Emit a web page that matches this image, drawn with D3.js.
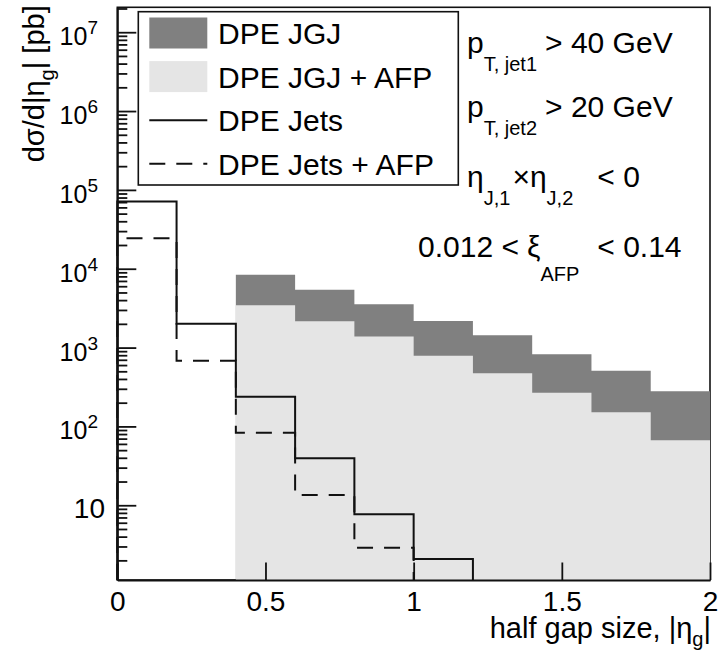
<!DOCTYPE html>
<html>
<head>
<meta charset="utf-8">
<script src="https://cdnjs.cloudflare.com/ajax/libs/d3/7.8.5/d3.min.js"></script>
<style>
  body { margin: 0; background: #fff; }
  svg { display: block; font-family: "Liberation Sans", Arial, Helvetica, sans-serif; }
</style>
</head>
<body>
<svg width="724" height="659"></svg>
<script>
// bin edges of |eta_g|
let edges = [0, 0.2, 0.4, 0.6, 0.8, 1.0, 1.2, 1.4, 1.6, 1.8, 2.0];

// d sigma / d|eta_g| [pb], one value per bin (0 = empty)
let jgj = [0, 0, 8400, 5400, 3550, 2180, 1430, 820, 510, 280];
let jgjAfp = [0, 0, 3450, 2160, 1380, 785, 472, 268, 151, 67];
let jets = [71000, 2000, 238, 39.4, 7.7, 2.08, 0, 0, 0, 0];
let jetsAfp = [24400, 682, 83, 13.5, 2.9, 0, 0, 0, 0, 0];

let xTicks = [0, 0.5, 1, 1.5, 2];
let yMajor = [10, 1e2, 1e3, 1e4, 1e5, 1e6, 1e7];
let legendLabels = ["DPE JGJ", "DPE JGJ + AFP", "DPE Jets", "DPE Jets + AFP"];

let yMin = 1.127;
let yMax = 2.07e7;

let svg = d3.select("svg");

let pL = 117.3, pR = 710, pT = 7.3, pB = 580;

let x = d3.scaleLinear().domain([0, 2]).range([pL, pR]);
let y = d3.scaleLog().domain([yMin, yMax]).range([pB, pT]);

// frame
svg
  .append("rect")
  .attr("x", pL)
  .attr("y", pT)
  .attr("width", pR - pL)
  .attr("height", pB - pT)
  .attr("fill", "none")
  .attr("stroke", "#111")
  .attr("stroke-width", 1.6);

// points for step shapes, bins first..last-1
function steps(vals, first, last) {
  let pts = [];
  for (let i = first; i < last; i++) {
    pts.push({ x: edges[i], v: Math.max(vals[i], yMin) });
  }
  pts.push({ x: edges[last], v: Math.max(vals[last - 1], yMin) });
  return pts;
}

let area = d3
  .area()
  .x((d) => x(d.x))
  .y0(pB)
  .y1((d) => y(d.v))
  .curve(d3.curveStepAfter);

svg
  .append("path")
  .attr("d", area(steps(jgj, 2, jgj.length)))
  .attr("fill", "#808080");

svg
  .append("path")
  .attr("d", area(steps(jgjAfp, 2, jgjAfp.length)))
  .attr("fill", "#e5e5e5");

let line = d3
  .line()
  .x((d) => x(d.x))
  .y((d) => y(d.v))
  .curve(d3.curveStepAfter);

// outline up to the last non-empty bin
function outline(vals) {
  let last = vals.length;
  while (last > 1 && vals[last - 1] <= 0) last--;
  let pts = steps(vals, 0, last);
  pts.unshift({ x: edges[0], v: yMin });
  pts.push({ x: edges[last], v: yMin });
  return pts;
}

svg
  .append("path")
  .attr("d", line(outline(jets)))
  .attr("fill", "none")
  .attr("stroke", "#111")
  .attr("stroke-width", 2);

svg
  .append("path")
  .attr("d", line(outline(jetsAfp)))
  .attr("fill", "none")
  .attr("stroke", "#111")
  .attr("stroke-width", 2)
  .attr("stroke-dasharray", "16,11");

// x axis
let xAxis = svg
  .append("g")
  .attr("transform", "translate(0," + pB + ")")
  .call(
    d3
      .axisBottom(x)
      .tickValues(xTicks)
      .tickSizeInner(-17.5)
      .tickSizeOuter(0)
      .tickPadding(11)
      .tickFormat((d) => d3.format("")(d))
  );
xAxis.select(".domain").attr("stroke", "#111").attr("stroke-width", 2);
xAxis.selectAll(".tick line").attr("stroke", "#111").attr("stroke-width", 1.8);
xAxis
  .selectAll(".tick text")
  .attr("font-size", 28)
  .attr("font-family", "Liberation Sans, Arial, sans-serif")
  .attr("fill", "#000");

// y axis: major and minor ticks pointing inward
let yMinor = y.ticks().filter((d) => yMajor.indexOf(d) < 0);

let yAxisMinor = svg
  .append("g")
  .attr("transform", "translate(" + pL + ",0)")
  .call(d3.axisLeft(y).tickValues(yMinor).tickSizeInner(-10).tickSizeOuter(0).tickFormat(""));
let yAxis = svg
  .append("g")
  .attr("transform", "translate(" + pL + ",0)")
  .call(d3.axisLeft(y).tickValues(yMajor).tickSizeInner(-19).tickSizeOuter(0).tickFormat(""));
yAxisMinor.select(".domain").remove();
yAxis.select(".domain").attr("stroke", "#111").attr("stroke-width", 2);
svg.selectAll(".tick line").attr("stroke", "#111").attr("stroke-width", 1.8);

// y tick labels 10^n
let yLab = svg
  .selectAll("text.ylab")
  .data(yMajor)
  .enter()
  .append("text")
  .attr("class", "ylab")
  .attr("text-anchor", "end")
  .attr("x", (d) => (d === 10 ? 105 : 98))
  .attr("y", (d) => y(d) + 13)
  .attr("font-size", (d) => (d === 10 ? 28 : 25));
yLab.append("tspan").text("10");
yLab
  .filter((d) => d !== 10)
  .append("tspan")
  .attr("dy", -11)
  .attr("font-size", 19)
  .text((d) => Math.round(Math.log10(d)));

// axis titles
let yTitle = svg
  .append("text")
  .attr("transform", "translate(44," + (pT - 2) + ") rotate(-90)")
  .attr("text-anchor", "end")
  .attr("font-size", 29);
yTitle.append("tspan").text("d\u03c3/d|\u03b7");
yTitle.append("tspan").attr("dy", 10).attr("font-size", 20).text("g");
yTitle.append("tspan").attr("dy", -10).text("| [pb]");

let xTitle = svg
  .append("text")
  .attr("x", pR + 1)
  .attr("y", 638)
  .attr("text-anchor", "end")
  .attr("font-size", 29);
xTitle.append("tspan").text("half gap size, |\u03b7");
xTitle.append("tspan").attr("dy", 8).attr("font-size", 20).text("g");
xTitle.append("tspan").attr("dy", -8).text("|");

// legend
svg
  .append("rect")
  .attr("x", 138.3)
  .attr("y", 11.7)
  .attr("width", 320)
  .attr("height", 173.3)
  .attr("fill", "#fff")
  .attr("stroke", "#111")
  .attr("stroke-width", 1.6);

let rowY = (i) => 33 + 43.6 * i;

svg
  .selectAll("rect.sw")
  .data(["#808080", "#e5e5e5"])
  .enter()
  .append("rect")
  .attr("class", "sw")
  .attr("x", 149.3)
  .attr("y", (d, i) => rowY(i) - 15.5)
  .attr("width", 58)
  .attr("height", 31)
  .attr("fill", (d) => d);

svg
  .selectAll("line.sw")
  .data(["none", "16,11"])
  .enter()
  .append("line")
  .attr("class", "sw")
  .attr("x1", 149.3)
  .attr("x2", 207.3)
  .attr("y1", (d, i) => rowY(i + 2))
  .attr("y2", (d, i) => rowY(i + 2))
  .attr("stroke", "#111")
  .attr("stroke-width", 2)
  .attr("stroke-dasharray", (d) => d);

svg
  .selectAll("text.leg")
  .data(legendLabels)
  .enter()
  .append("text")
  .attr("class", "leg")
  .attr("x", 218)
  .attr("y", (d, i) => rowY(i) + 11)
  .attr("font-size", 30)
  .text((d) => d);

// cut annotations
function latex(xp, yp, parts) {
  let t = svg.append("text").attr("x", xp).attr("y", yp).attr("font-size", 30);
  let shift = 0;
  parts.forEach((p) => {
    let dy = (p.sub || 0) - shift;
    shift = p.sub || 0;
    t.append("tspan")
      .attr("dy", dy)
      .attr("dx", p.dx || 0)
      .attr("font-size", p.sub ? 20 : 30)
      .text(p.t);
  });
}

latex(467, 53.3, [{ t: "p" }, { t: "T, jet1", sub: 18 }, { t: "> 40 GeV", dx: 8 }]);
latex(467, 116.7, [{ t: "p" }, { t: "T, jet2", sub: 18 }, { t: "> 20 GeV", dx: 8 }]);
latex(467, 186.7, [
  { t: "\u03b7" },
  { t: "J,1", sub: 18 },
  { t: "\u00d7", dx: 2 },
  { t: "\u03b7" },
  { t: "J,2", sub: 18 },
  { t: "< 0", dx: 24 },
]);
latex(418, 256.7, [
  { t: "0.012 <" },
  { t: "\u03be", dx: 8 },
  { t: "AFP", sub: 24 },
  { t: "< 0.14", dx: 18 },
]);
</script>
</body>
</html>
